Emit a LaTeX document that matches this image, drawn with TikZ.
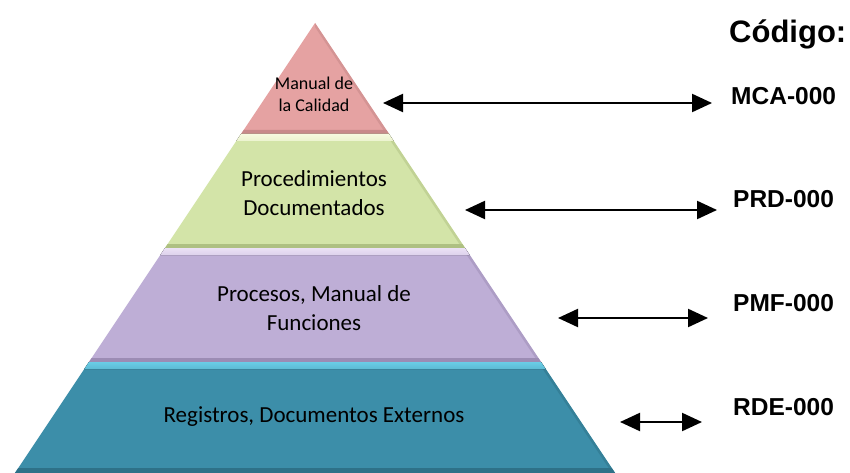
\documentclass[tikz,border=0pt]{standalone}
\usepackage{fontspec}
\setmainfont{Liberation Sans}
\newfontfamily\layerfont{Carlito}
\usetikzlibrary{arrows.meta}
\definecolor{pinkL}{HTML}{E5A2A2}
\definecolor{pinkD}{HTML}{C88A8A}
\definecolor{greenL}{HTML}{D3E4A8}
\definecolor{greenT}{HTML}{F6FADF}
\definecolor{greenD}{HTML}{AEC082}
\definecolor{purpL}{HTML}{BEAED6}
\definecolor{purpT}{HTML}{EBE1F5}
\definecolor{purpD}{HTML}{9C8CB4}
\definecolor{tealL}{HTML}{3C8EA9}
\definecolor{tealT}{HTML}{6ACDE6}
\definecolor{tealD}{HTML}{2E7188}
\tikzset{
  codelabel/.style={font=\bfseries\fontsize{24.5}{27}\selectfont, anchor=west, inner sep=0pt},
  layertext/.style={font=\layerfont\fontsize{23}{29}\selectfont, align=center, text=black},
  biarrow/.style={line width=2.2pt, {Triangle[length=20pt,width=18pt]}-{Triangle[length=20pt,width=18pt]}},
}
\newcommand{\lx}[1]{315-0.6667*(#1-23)}
\newcommand{\rx}[1]{315+0.6667*(#1-23)}
% trapezoid strip between y #1 and #2, inset #3 at both sides
\newcommand{\strip}[4]{\fill[#4] ({\lx{#1}+#3},#1) -- ({\rx{#1}-#3},#1) -- ({\rx{#2}-#3},#2) -- ({\lx{#2}+#3},#2) -- cycle;}
\begin{document}
\begin{tikzpicture}[x=1pt,y=-1pt]
\useasboundingbox (0,0) rectangle (850,473);
% top triangle
\fill[pinkL] (315,23) -- ({\rx{134}},134) -- ({\lx{134}},134) -- cycle;
\fill[pinkD!60!pinkL] (315,23) -- ({\rx{134}},134) -- ({\rx{134}-3},134) -- (315,27) -- cycle;
\strip{130}{134}{0}{pinkD}
% green
\strip{134}{248}{0}{greenL}
\fill[greenD!50!greenL] ({\rx{134}},134) -- ({\rx{248}},248) -- ({\rx{248}-3},248) -- ({\rx{134}-3},134) -- cycle;
\strip{134}{141}{0}{top color=greenT,bottom color=greenT!70!greenL}
\strip{244}{248}{0}{greenD}
% purple
\strip{248}{362}{0}{purpL}
\fill[purpD!50!purpL] ({\rx{248}},248) -- ({\rx{362}},362) -- ({\rx{362}-3},362) -- ({\rx{248}-3},248) -- cycle;
\strip{248}{255}{0}{top color=purpT,bottom color=purpT!70!purpL}
\strip{358}{362}{0}{purpD}
% teal
\strip{362}{473}{0}{tealL}
\fill[tealD!50!tealL] ({\rx{362}},362) -- ({\rx{473}},473) -- ({\rx{473}-3},473) -- ({\rx{362}-3},362) -- cycle;
\strip{362}{369}{0}{top color=tealT,bottom color=tealT!70!tealL}
\strip{468}{473}{0}{tealD}

% layer texts
\node[layertext, font=\layerfont\fontsize{18}{22}\selectfont] (t1) at (314,94) {Manual de\\la Calidad};
\node[layertext] (t2) at (314,193) {Procedimientos\\Documentados};
\node[layertext] (t3) at (314,308) {Procesos, Manual de\\Funciones};
\node[layertext] (t4) at (314,417) {Registros, Documentos Externos};

% labels
\node[font=\bfseries\fontsize{31}{34}\selectfont, anchor=west, inner sep=0pt] (cod) at (729,34) {Código:};
\node[codelabel] (c1) at (731,96) {MCA-000};
\node[codelabel] (c2) at (733,199) {PRD-000};
\node[codelabel] (c3) at (733,303) {PMF-000};
\node[codelabel] (c4) at (733,407) {RDE-000};

% arrow endpoints
\coordinate (a1s) at (383,103); \coordinate (a1e) at (712,103);
\coordinate (a2s) at (465,210); \coordinate (a2e) at (717,210);
\coordinate (a3s) at (558,318); \coordinate (a3e) at (708,318);
\coordinate (a4s) at (620,422); \coordinate (a4e) at (702,422);
\draw[biarrow] (a1s) -- (a1e);
\draw[biarrow] (a2s) -- (a2e);
\draw[biarrow] (a3s) -- (a3e);
\draw[biarrow] (a4s) -- (a4e);
\end{tikzpicture}
\end{document}
